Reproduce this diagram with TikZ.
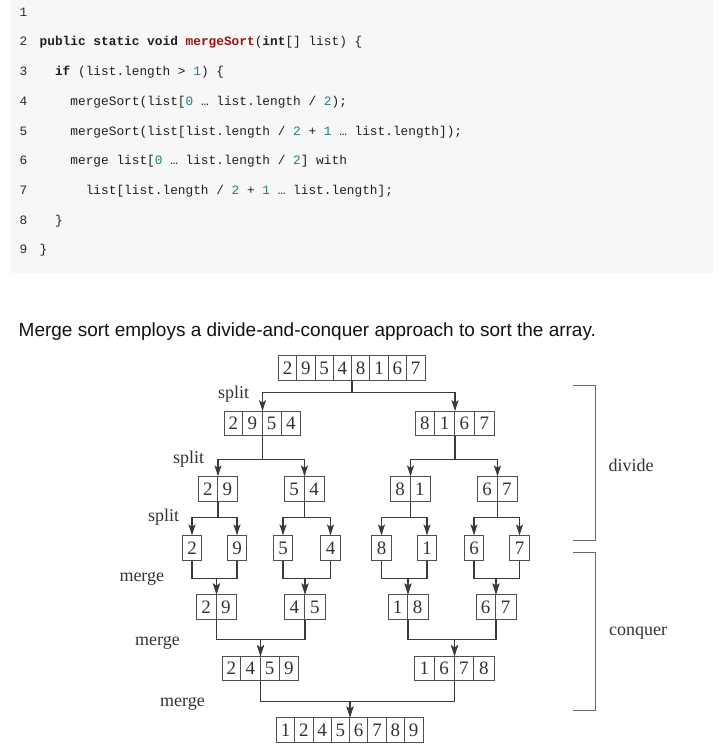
\documentclass[tikz,border=0pt]{standalone}
\usepackage{fontspec}
\setmainfont{Liberation Serif}
\newfontfamily\codefont{Liberation Mono}
\newfontfamily\capfont{Liberation Sans}
\usetikzlibrary{arrows.meta,calc}
\definecolor{codebg}{HTML}{F7F7F7}
\definecolor{codetxt}{HTML}{1E1E1E}
\definecolor{kwred}{HTML}{9B1111}
\definecolor{numteal}{HTML}{1D7F80}
\definecolor{lncol}{HTML}{2A2A2A}
\definecolor{diag}{HTML}{3A3A3A}
\definecolor{boxcol}{HTML}{505050}
\definecolor{brk}{HTML}{6A6A6A}
\definecolor{lbltxt}{HTML}{333333}
\newcommand\nm[1]{\textcolor{numteal}{#1}}
\newcommand\arrbox[6]{%
  \node[abox, minimum width={#5*#4}] (#1) at (#2,#3) {};
  \foreach \d [count=\i] in {#6} \node[digit] at ([xshift={(\i-0.5)*#4}]#1.west) {\d};
  \pgfmathtruncatemacro\nmone{#5-1}%
  \foreach \k in {1,...,\nmone} \draw[boxline] ([xshift={\k*#4}]#1.north west) -- ([xshift={\k*#4}]#1.south west);
}
\newcommand\leafbox[4]{%
  \node[abox, minimum width=19.5] (#1) at (#2,#3) {};
  \node[digit] at (#1.center) {#4};
}
\begin{document}
\begin{tikzpicture}[x=1pt,y=-1pt,
  abox/.style={draw=boxcol, line width=0.9pt, minimum height=24.3, inner sep=0pt},
  boxline/.style={draw=boxcol, line width=0.9pt},
  digit/.style={inner sep=0pt, text=lbltxt, font=\fontsize{19}{19}\selectfont},
  lbl/.style={inner sep=0pt, anchor=base west, text=lbltxt, font=\fontsize{18}{18}\selectfont},
  conn/.style={draw=diag, line width=1.2pt, -{Stealth[length=11pt,width=7pt,inset=2.5pt]}},
  bracket/.style={draw=brk, line width=1.4pt},
  codeline/.style={inner sep=0pt, anchor=base west, text=codetxt, font=\codefont\fontsize{12.8}{15}\selectfont},
  lnum/.style={inner sep=0pt, anchor=base west, text=lncol, font=\codefont\fontsize{12.8}{15}\selectfont}
]
\useasboundingbox (0,0) rectangle (719,747);
% code block
\fill[codebg] (11,0) rectangle (713,273);
\foreach \n in {1,...,9} \node[lnum] (ln\n) at (19.5,{16.2+(\n-1)*29.7}) {\n};
\node[codeline] (c2) at (39.5,45.9) {\textbf{public static void }\textcolor{kwred}{\textbf{mergeSort}}(\textbf{int}[] list) \{};
\node[codeline] (c3) at ({39.5+2*7.68},75.6) {\textbf{if} (list.length > \nm{1}) \{};
\node[codeline] (c4) at ({39.5+4*7.68},105.3) {mergeSort(list[\nm{0} … list.length / \nm{2});};
\node[codeline] (c5) at ({39.5+4*7.68},135) {mergeSort(list[list.length / \nm{2} + \nm{1} … list.length]);};
\node[codeline] (c6) at ({39.5+4*7.68},164.7) {merge list[\nm{0} … list.length / \nm{2}] with};
\node[codeline] (c7) at ({39.5+6*7.68},194.4) {list[list.length / \nm{2} + \nm{1} … list.length];};
\node[codeline] (c8) at ({39.5+2*7.68},224.1) {\}};
\node[codeline] (c9) at (39.5,253.8) {\}};
% caption
\node[inner sep=0pt, anchor=base west, text=black!93, font=\capfont\fontsize{19}{19}\selectfont] (cap) at (18.5,336) {Merge sort employs a divide-and-conquer approach to sort the array.};
% boxes
\arrbox{top}{352}{368}{18.3}{8}{2,9,5,4,8,1,6,7}
\arrbox{a}{262.5}{423.7}{19.2}{4}{2,9,5,4}
\arrbox{b}{455}{423.7}{19.8}{4}{8,1,6,7}
\arrbox{a1}{218}{489}{19.5}{2}{2,9}
\arrbox{a2}{304.5}{489}{20}{2}{5,4}
\arrbox{b1}{410.5}{489}{19.7}{2}{8,1}
\arrbox{b2}{497.5}{489}{19.8}{2}{6,7}
\leafbox{l1}{192}{548}{2}
\leafbox{l2}{237}{548}{9}
\leafbox{l3}{283}{548}{5}
\leafbox{l4}{330.5}{548}{4}
\leafbox{l5}{381.5}{548}{8}
\leafbox{l6}{427}{548}{1}
\leafbox{l7}{474}{548}{6}
\leafbox{l8}{519.5}{548}{7}
\arrbox{m1}{216.5}{607}{19.7}{2}{2,9}
\arrbox{m2}{305}{607}{20.5}{2}{4,5}
\arrbox{m3}{408}{607}{20}{2}{1,8}
\arrbox{m4}{496}{607}{20}{2}{6,7}
\arrbox{n1}{260.5}{668.7}{19.2}{4}{2,4,5,9}
\arrbox{n2}{454.5}{668.7}{19.8}{4}{1,6,7,8}
\arrbox{fin}{350}{730}{18.3}{8}{1,2,4,5,6,7,8,9}
% join levels
\coordinate (j1) at (0,392.5);
\coordinate (j2) at (0,459.5);
\coordinate (j3) at (0,517.5);
\coordinate (k1) at (0,578.5);
\coordinate (k2) at (0,639.5);
\coordinate (k3) at (0,701.5);
% split connectors
\foreach \s/\t in {top/a,top/b} \draw[conn] (\s.south) |- (\t.north |- j1) -- (\t.north);
\foreach \s/\t in {a/a1,a/a2,b/b1,b/b2} \draw[conn] (\s.south) |- (\t.north |- j2) -- (\t.north);
\foreach \s/\t in {a1/l1,a1/l2,a2/l3,a2/l4,b1/l5,b1/l6,b2/l7,b2/l8} \draw[conn] (\s.south) |- (\t.north |- j3) -- (\t.north);
% merge connectors
\foreach \s/\t in {l1/m1,l2/m1,l3/m2,l4/m2,l5/m3,l6/m3,l7/m4,l8/m4} \draw[conn] (\s.south) |- (\t.north |- k1) -- (\t.north);
\foreach \s/\t in {m1/n1,m2/n1,m3/n2,m4/n2} \draw[conn] (\s.south) |- (\t.north |- k2) -- (\t.north);
\foreach \s/\t in {n1/fin,n2/fin} \draw[conn] (\s.south) |- (\t.north |- k3) -- (\t.north);
% labels
\node[lbl] (sp1) at (218,398) {split};
\node[lbl] (sp2) at (173,463) {split};
\node[lbl] (sp3) at (148,521.5) {split};
\node[lbl] (mg1) at (119.3,581) {merge};
\node[lbl] (mg2) at (135,645) {merge};
\node[lbl] (mg3) at (160,706.4) {merge};
\node[lbl] (dv) at (608.3,471) {divide};
\node[lbl] (cq) at (609,635) {conquer};
% brackets
\draw[bracket] (573.3,385.7) -- (595.7,385.7) -- (595.7,540.7) -- (573.3,540.7);
\draw[bracket] (573.3,552.3) -- (595.7,552.3) -- (595.7,710.7) -- (573.3,710.7);
\end{tikzpicture}
\end{document}
